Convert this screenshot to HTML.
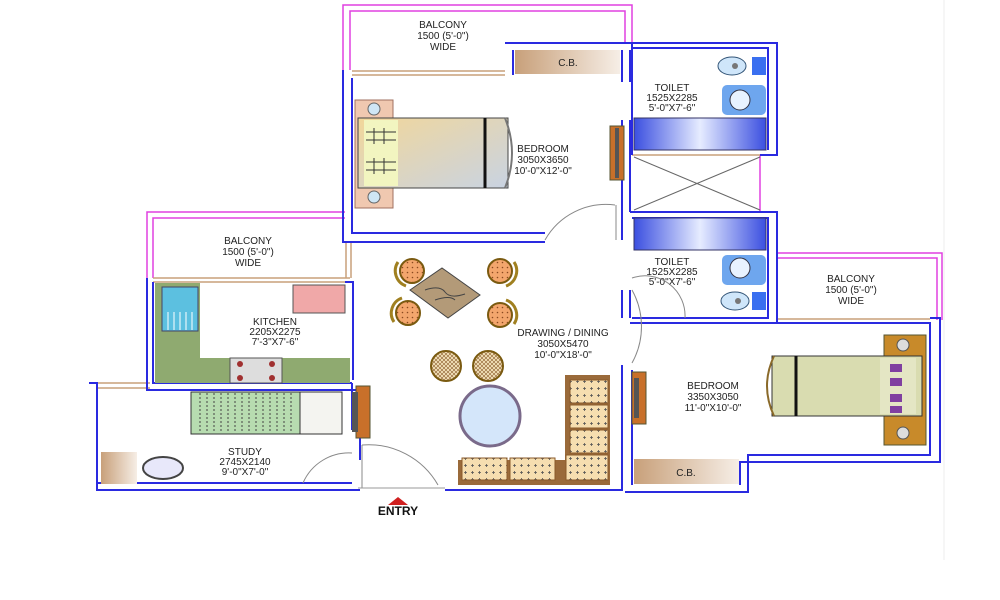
<!DOCTYPE html>
<html><head><meta charset="utf-8"><style>
html,body{margin:0;padding:0;background:#fff;width:1000px;height:600px;overflow:hidden}
text{font-family:"Liberation Sans",sans-serif;font-size:10px;fill:#222;text-anchor:middle}
</style></head><body>
<svg width="1000" height="600" viewBox="0 0 1000 600" xmlns="http://www.w3.org/2000/svg">
<defs>
<linearGradient id="bedg" x1="0" y1="0" x2="1" y2="1"><stop offset="0" stop-color="#f2d79a"/><stop offset="1" stop-color="#c9d3e2"/></linearGradient>
<linearGradient id="cb" x1="0" x2="1"><stop offset="0" stop-color="#c8a07a"/><stop offset="1" stop-color="#f6eee6"/></linearGradient>
<linearGradient id="tub" x1="0" x2="1"><stop offset="0" stop-color="#3b4fe0"/><stop offset=".5" stop-color="#e6ecff"/><stop offset="1" stop-color="#3b4fe0"/></linearGradient>
<pattern id="dots" width="5" height="5" patternUnits="userSpaceOnUse"><rect width="5" height="5" fill="#f3a66d"/><circle cx="2.5" cy="2.5" r=".8" fill="#8a4a20"/></pattern>
<pattern id="sofa" width="7" height="7" patternUnits="userSpaceOnUse"><rect width="7" height="7" fill="#f6deb0"/><path d="M2 3.5h3M3.5 2v3" stroke="#555" stroke-width=".8"/></pattern>
<pattern id="mesh" width="4" height="4" patternUnits="userSpaceOnUse"><rect width="4" height="4" fill="#f3e3bb"/><path d="M0 0L4 4M4 0L0 4" stroke="#8a5a2a" stroke-width=".6"/></pattern>
</defs>

<g fill="none" stroke="#e040e0" stroke-width="1.5">
<path d="M343 72V5H632V43"/><path d="M350 70V11H625V43"/>
<path d="M147 278V212H345"/><path d="M153 278V218H345"/>
<path d="M777 258H937V320"/><path d="M777 253H942V320"/>
<path d="M760 155V212" />
</g>
<g stroke="#c8a07a" stroke-width="1.5">
<line x1="352" y1="71" x2="505" y2="71"/><line x1="352" y1="75" x2="505" y2="75"/>
<line x1="153" y1="278" x2="350" y2="278"/><line x1="153" y1="282" x2="350" y2="282"/>
<line x1="346" y1="242" x2="346" y2="278"/><line x1="351" y1="242" x2="351" y2="278"/>
<line x1="777" y1="319" x2="930" y2="319"/><line x1="777" y1="323" x2="930" y2="323"/>
<line x1="97" y1="383" x2="150" y2="383"/><line x1="97" y1="388" x2="150" y2="388"/>
<line x1="632" y1="155" x2="760" y2="155"/><line x1="632" y1="212" x2="760" y2="212"/>
</g>

<g fill="none" stroke="#2a2ae0" stroke-width="2">
<path d="M343 70V242H545"/><path d="M352 78V233H545"/>
<path d="M505 43H632V155"/><path d="M513 50V75"/>
<path d="M622 50V82"/><path d="M630 50V82"/>
<path d="M622 120V240"/><path d="M630 120V212"/>
<path d="M630 43H777V155H760"/><path d="M632 48H768V150"/>
<path d="M630 212H777V323H630"/><path d="M632 218H768V318H632"/>
<path d="M622 290V318"/><path d="M630 290V318"/>
<path d="M622 365V490H445"/><path d="M632 370V485"/>
<path d="M632 323H930V455H748V492H625"/>
<path d="M930 318H940V462H740V485"/>
<path d="M147 278V390H360"/><path d="M153 282V383H352"/>
<path d="M89 383H97V490H360"/><path d="M97 388V483H352"/>
<path d="M352 383V430"/><path d="M360 390V460"/>
<path d="M345 282H353V380"/>
</g>

<text x="443" y="28">BALCONY</text><text x="443" y="39">1500 (5'-0")</text><text x="443" y="50">WIDE</text>
<rect x="515" y="50" width="105" height="24" fill="url(#cb)"/>
<text x="568" y="66">C.B.</text>

<rect x="355" y="100" width="38" height="108" fill="#f0c8b0" stroke="#a07060"/>
<circle cx="374" cy="109" r="6" fill="#cfe6f5" stroke="#666"/><circle cx="374" cy="197" r="6" fill="#cfe6f5" stroke="#666"/>
<rect x="358" y="118" width="150" height="70" fill="url(#bedg)" stroke="#444"/>
<rect x="364" y="120" width="34" height="66" fill="#f2f5c0"/>
<g stroke="#333" stroke-width="1"><path d="M366 132h30M366 140h30M366 162h30M366 170h30M374 128v16M384 128v16M374 158v16M384 158v16"/></g>
<line x1="485" y1="118" x2="485" y2="188" stroke="#111" stroke-width="3"/>
<path d="M505 118q14 35 0 70" fill="none" stroke="#777" stroke-width="2"/>
<text x="543" y="152">BEDROOM</text><text x="543" y="163">3050X3650</text><text x="543" y="174">10'-0"X12'-0"</text>
<rect x="610" y="126" width="14" height="54" fill="#c8702a" stroke="#553"/><rect x="615" y="128" width="4" height="50" fill="#555"/>
<path d="M545 240A70 70 0 0 1 615 205" fill="none" stroke="#888"/><line x1="616" y1="205" x2="616" y2="240" stroke="#888"/>

<ellipse cx="732" cy="66" rx="14" ry="9" fill="#cfe6fa" stroke="#357"/><circle cx="735" cy="66" r="3" fill="#777"/><rect x="752" y="57" width="14" height="18" fill="#3a6ff0"/>
<rect x="722" y="85" width="44" height="30" rx="5" fill="#6ea6ee"/><circle cx="740" cy="100" r="10" fill="#e8f2ff" stroke="#334"/>
<text x="672" y="91">TOILET</text><text x="672" y="101">1525X2285</text><text x="672" y="111">5'-0"X7'-6"</text>
<rect x="634" y="118" width="132" height="32" fill="url(#tub)" stroke="#336"/>
<line x1="634" y1="157" x2="760" y2="210" stroke="#666"/><line x1="634" y1="210" x2="760" y2="157" stroke="#666"/>
<rect x="634" y="218" width="132" height="32" fill="url(#tub)" stroke="#336"/>
<rect x="722" y="255" width="44" height="30" rx="5" fill="#6ea6ee"/><circle cx="740" cy="268" r="10" fill="#e8f2ff" stroke="#334"/>
<text x="672" y="265">TOILET</text><text x="672" y="275">1525X2285</text><text x="672" y="285">5'-0"X7'-6"</text>
<ellipse cx="735" cy="301" rx="14" ry="9" fill="#cfe6fa" stroke="#357"/><circle cx="738" cy="301" r="3" fill="#777"/><rect x="752" y="292" width="14" height="18" fill="#3a6ff0"/>
<path d="M632 278A40 40 0 0 1 685 318" fill="none" stroke="#888"/>
<path d="M632 290A75 75 0 0 1 632 363" fill="none" stroke="#888"/>

<text x="851" y="282">BALCONY</text><text x="851" y="293">1500 (5'-0")</text><text x="851" y="304">WIDE</text>

<rect x="884" y="335" width="42" height="110" fill="#c88a2a" stroke="#553"/>
<circle cx="903" cy="345" r="6" fill="#ddd" stroke="#555"/><circle cx="903" cy="433" r="6" fill="#ddd" stroke="#555"/>
<rect x="772" y="356" width="150" height="60" fill="#d9dcb0" stroke="#333"/>
<rect x="880" y="358" width="36" height="56" fill="#e4e6c4"/>
<g fill="#8040a0"><rect x="890" y="364" width="12" height="8"/><rect x="890" y="378" width="12" height="8"/><rect x="890" y="394" width="12" height="8"/><rect x="890" y="406" width="12" height="7"/></g>
<line x1="796" y1="356" x2="796" y2="416" stroke="#111" stroke-width="3"/>
<path d="M774 356q-14 30 0 60" fill="none" stroke="#8a6a2a" stroke-width="2"/>
<text x="713" y="389">BEDROOM</text><text x="713" y="400">3350X3050</text><text x="713" y="411">11'-0"X10'-0"</text>
<rect x="632" y="372" width="14" height="52" fill="#c8702a" stroke="#553"/><rect x="634" y="378" width="5" height="40" fill="#555"/>
<rect x="634" y="459" width="105" height="25" fill="url(#cb)"/>
<text x="686" y="476">C.B.</text>

<polygon points="410,290 442,268 480,295 448,318" fill="#b39a78" stroke="#444"/>
<path d="M425 290q15-5 20 2t20 2M435 300q15-5 20 0" fill="none" stroke="#444"/>
<g stroke="#7a5a10" stroke-width="2">
<circle cx="412" cy="271" r="12" fill="url(#dots)"/><circle cx="500" cy="271" r="12" fill="url(#dots)"/>
<circle cx="408" cy="313" r="12" fill="url(#dots)"/><circle cx="500" cy="315" r="12" fill="url(#dots)"/>
<circle cx="446" cy="366" r="15" fill="url(#mesh)"/><circle cx="488" cy="366" r="15" fill="url(#mesh)"/>
</g>
<g fill="none" stroke="#a08020" stroke-width="3">
<path d="M398 262a16 16 0 0 0 8 24"/><path d="M514 262a16 16 0 0 1 -8 24"/>
<path d="M394 322a16 16 0 0 1 8 -24"/><path d="M514 324a16 16 0 0 0 -8 -24"/>
</g>
<text x="563" y="336">DRAWING / DINING</text><text x="563" y="347">3050X5470</text><text x="563" y="358">10'-0"X18'-0"</text>
<circle cx="490" cy="416" r="30" fill="#d4e6fa" stroke="#7a6a8a" stroke-width="3"/>
<path d="M565 375H610V485H458V460H565Z" fill="#9a6a3a"/>
<g fill="url(#sofa)" stroke="#8a5a2a"><rect x="570" y="380" width="38" height="23"/><rect x="570" y="405" width="38" height="23"/><rect x="570" y="430" width="38" height="23"/><rect x="566" y="455" width="42" height="25"/><rect x="510" y="458" width="45" height="22"/><rect x="462" y="458" width="45" height="22"/></g>

<text x="248" y="244">BALCONY</text><text x="248" y="255">1500 (5'-0")</text><text x="248" y="266">WIDE</text>
<path d="M155 283H200V358H350V383H155Z" fill="#8faa70"/>
<rect x="162" y="287" width="36" height="44" fill="#5cc0e0" stroke="#446"/>
<g stroke="#fff" stroke-width="1"><path d="M168 312v18M174 312v18M180 312v18M186 312v18M192 312v18"/></g>
<rect x="230" y="358" width="52" height="25" fill="#ddd" stroke="#555"/>
<g fill="#a03030"><circle cx="240" cy="364" r="3"/><circle cx="272" cy="364" r="3"/><circle cx="240" cy="378" r="3"/><circle cx="272" cy="378" r="3"/></g>
<rect x="293" y="285" width="52" height="28" fill="#f0a8a8" stroke="#555"/>
<text x="275" y="325">KITCHEN</text><text x="275" y="335">2205X2275</text><text x="275" y="345">7'-3"X7'-6"</text>

<rect x="191" y="392" width="130" height="42" fill="#b7dcb0" stroke="#333"/>
<g stroke="#444" stroke-dasharray="2 2"><path d="M200 393v40M207 393v40M214 393v40M221 393v40M228 393v40M235 393v40M242 393v40M249 393v40M256 393v40M263 393v40M270 393v40M277 393v40M284 393v40M291 393v40"/></g>
<rect x="300" y="392" width="42" height="42" fill="#f4f4f0" stroke="#333"/>
<rect x="356" y="386" width="14" height="52" fill="#c8702a" stroke="#553"/><rect x="352" y="392" width="6" height="40" fill="#555"/>
<rect x="101" y="452" width="36" height="32" fill="url(#cb)"/>
<ellipse cx="163" cy="468" rx="20" ry="11" fill="#e8e8fa" stroke="#444" stroke-width="2"/>
<text x="245" y="455">STUDY</text><text x="245" y="465">2745X2140</text><text x="245" y="475">9'-0"X7'-0"</text>
<path d="M303 483A50 50 0 0 1 352 453" fill="none" stroke="#888"/>
<path d="M362 445A80 80 0 0 1 438 485" fill="none" stroke="#888"/><line x1="362" y1="445" x2="362" y2="488" stroke="#888"/>
<line x1="358" y1="488" x2="445" y2="488" stroke="#999"/>

<polygon points="388,505 398,497 408,505" fill="#d02020"/>
<text x="398" y="515" style="font-size:12px;font-weight:bold;fill:#111">ENTRY</text>
<line x1="944" y1="0" x2="944" y2="560" stroke="#eee"/>
</svg>
</body></html>
